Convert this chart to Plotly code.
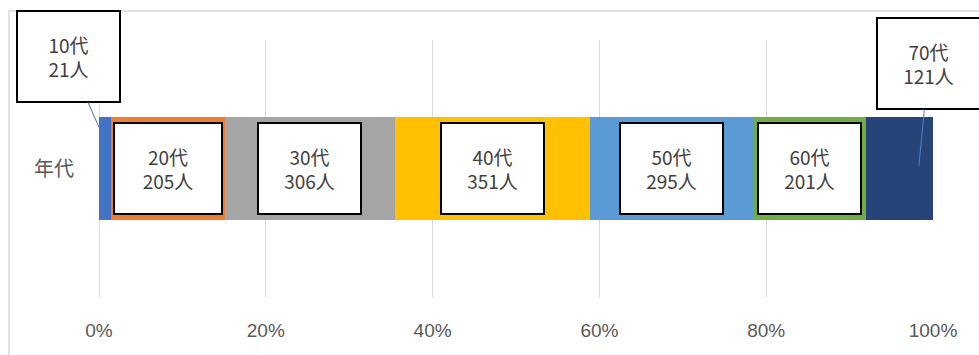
import plotly.graph_objects as go

# ---- data ----
category = ["年代"]
age_groups = ["10代", "20代", "30代", "40代", "50代", "60代", "70代"]
counts = [21, 205, 306, 351, 295, 201, 121]
tick_values = [0, 20, 40, 60, 80, 100]
tick_labels = ["0%", "20%", "40%", "60%", "80%", "100%"]

colors = ["#4472C4", "#ED7D31", "#A5A5A5", "#FFC000", "#5B9BD5", "#70AD47", "#264478"]

total = sum(counts)
pct = [c / total * 100 for c in counts]
starts = []
acc = 0
for p in pct:
    starts.append(acc)
    acc += p

JP = "Noto Sans CJK JP, Noto Sans, sans-serif"

fig = go.Figure()
for name, p, col in zip(age_groups, pct, colors):
    fig.add_trace(go.Bar(
        x=[p], y=category, orientation="h", name=name,
        marker=dict(color=col, line=dict(width=0)),
        showlegend=False, hoverinfo="skip",
    ))

annotations = []
box_w, box_h = 101, 89
for i, (name, c, s, p) in enumerate(zip(age_groups, counts, starts, pct)):
    text = f"{name}<br>{c}人"
    common = dict(
        text=text, xref="x", yref="y",
        font=dict(family=JP, size=19, color="#404040"),
        bgcolor="white", bordercolor="black", borderwidth=2, borderpad=0,
        width=box_w, height=box_h, align="center", valign="middle",
    )
    if i == 0:
        annotations.append(dict(
            x=s, y=0.16, showarrow=True, arrowhead=0, arrowwidth=1,
            arrowcolor="#4472C4", ax=-31, ay=-71, axref="pixel", ayref="pixel",
            **common))
    elif i == len(age_groups) - 1:
        annotations.append(dict(
            x=s + p * 0.79, y=0.01, showarrow=True, arrowhead=0, arrowwidth=1,
            arrowcolor="#4F81D0", ax=10, ay=-102, axref="pixel", ayref="pixel",
            **common))
    else:
        w = box_w + 5 if i == 1 else box_w
        common["width"] = w
        annotations.append(dict(x=s + p / 2, y=0, showarrow=False, **common))

fig.update_layout(
    width=979, height=355,
    margin=dict(l=99, r=46, t=40, b=58, pad=0),
    paper_bgcolor="white", plot_bgcolor="white",
    barmode="stack", bargap=0.6,
    annotations=annotations,
    shapes=[dict(type="rect", xref="paper", yref="paper",
                 x0=(9 - 99) / 834, x1=1.2, y0=-0.5, y1=(297 - 11) / 257,
                 line=dict(color="#D9D9D9", width=1.5), fillcolor="rgba(0,0,0,0)",
                 layer="below")],
    xaxis=dict(
        range=[0, 100], tickvals=tick_values, ticktext=tick_labels,
        showgrid=True, gridcolor="#D9D9D9", gridwidth=1,
        zeroline=True, zerolinecolor="#D9D9D9", zerolinewidth=1,
        showline=False, ticks="", ticklabelstandoff=20,
        tickfont=dict(family="Liberation Sans, Arial, sans-serif", size=19, color="#595959"),
        fixedrange=True,
    ),
    yaxis=dict(
        range=[-0.5, 0.5], showgrid=False, zeroline=False, showline=False,
        ticks="", ticklabelstandoff=24,
        tickfont=dict(family=JP, size=20, color="#595959"),
        fixedrange=True,
    ),
)

fig.write_html("out.html")
